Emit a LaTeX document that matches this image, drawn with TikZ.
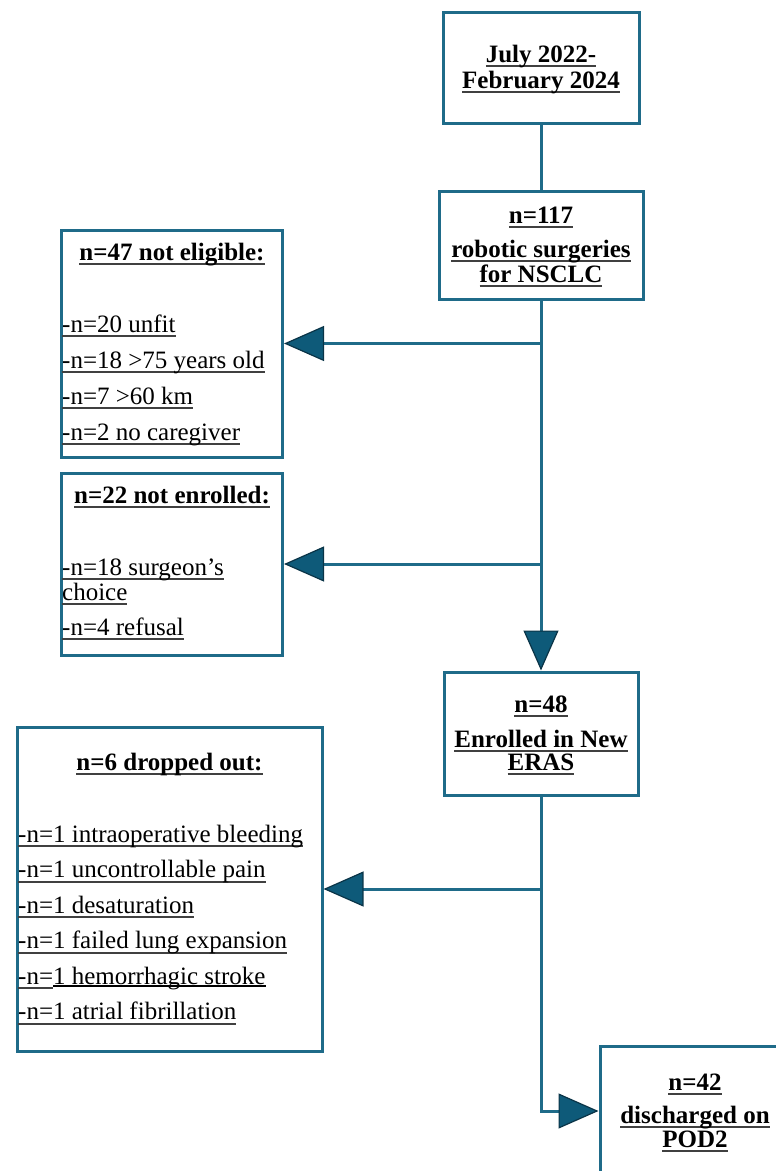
\documentclass[tikz,border=0pt]{standalone}
\usepackage{fontspec}
\setmainfont{Liberation Serif}
\usetikzlibrary{arrows.meta,positioning}
\definecolor{boxblue}{HTML}{1F6B89}
\definecolor{tipfill}{HTML}{0E5A79}
\definecolor{tipedge}{HTML}{0A3447}
\newcommand{\undl}[1]{\setbox0\hbox{#1}\rlap{\color{black!75}\rule[-5pt]{\wd0}{1.6pt}}\box0}
\newcommand{\undlhi}[1]{\setbox0\hbox{#1}\rlap{\color{black}\rule[-3pt]{\wd0}{1.8pt}}\box0}

\begin{document}
\begin{tikzpicture}[x=1pt,y=-1pt,font=\fontsize{25}{30}\selectfont,
  box/.style={draw=boxblue,line width=3pt,inner sep=0pt},
  flow/.style={draw=boxblue,line width=3pt,-{Triangle[length=40pt,width=35pt,fill=tipfill,color=tipedge,line width=1.2pt]}},
  head/.style={anchor=base,inner sep=0pt,font=\fontsize{25}{30}\selectfont\bfseries},
  item/.style={anchor=base west,inner sep=0pt}]
  \useasboundingbox (0,0) rectangle (776,1171);
  \clip (0,0) rectangle (776,1171);
  % boxes
  \node[box,minimum width=196pt,minimum height=111pt] (period) at (541,67.5) {};
  \node[box,minimum width=204pt,minimum height=108pt] (total) at (541,245) {};
  \node[box,minimum width=221pt,minimum height=227pt] (noteligible) at (172,343.5) {};
  \node[box,minimum width=221pt,minimum height=182pt] (notenrolled) at (172,564) {};
  \node[box,minimum width=194pt,minimum height=123pt] (enrolled) at (541,733.5) {};
  \node[box,minimum width=305pt,minimum height=324pt] (dropped) at (169.5,889) {};
  \node[box,minimum width=190pt,minimum height=130pt] (discharged) at (695,1111) {};
  % box texts
  \node[head] (period-a) at (541,62) {\undl{July 2022-}};
  \node[head] (period-b) at (541,88) {\undl{February 2024}};
  \node[head] (total-a) at (541,223) {\undl{n=117}};
  \node[head] (total-b) at (541,257) {\undl{robotic surgeries}};
  \node[head] (total-c) at (541,282) {\undl{for NSCLC}};
  \node[head] (noteligible-h) at (172,260) {\undl{n=47 not eligible:}};
  \node[item] (noteligible-a) at (62,332) {\undl{-n=20 unfit}};
  \node[item] (noteligible-b) at (62,368) {\undl{-n=18 >75 years old}};
  \node[item] (noteligible-c) at (62,404) {\undl{-n=7 >60 km}};
  \node[item] (noteligible-d) at (62,440) {\undl{-n=2 no caregiver}};
  \node[head] (notenrolled-h) at (172,503) {\undl{n=22 not enrolled:}};
  \node[item] (notenrolled-a) at (62,575) {\undl{-n=18 surgeon’s}};
  \node[item] (notenrolled-b) at (62,600) {\undl{choice}};
  \node[item] (notenrolled-c) at (62,635) {\undl{-n=4 refusal}};
  \node[head] (enrolled-a) at (541,712) {\undl{n=48}};
  \node[head] (enrolled-b) at (541,747) {\undl{Enrolled in New}};
  \node[head] (enrolled-c) at (541,770) {\undl{ERAS}};
  \node[head] (dropped-h) at (169.5,770) {\undl{n=6 dropped out:}};
  \node[item] (dropped-a) at (18,842) {\undl{-n=1 intraoperative bleeding}};
  \node[item] (dropped-b) at (18,877.5) {\undl{-n=1 uncontrollable pain}};
  \node[item] (dropped-c) at (18,913) {\undl{-n=1 desaturation}};
  \node[item] (dropped-d) at (18,948.5) {\undl{-n=1 failed lung expansion}};
  \node[item] (dropped-e) at (18,984) {\undl{-n=}\undlhi{1 hemorrhagic stroke}};
  \node[item] (dropped-f) at (18,1019.5) {\undl{-n=1 atrial fibrillation}};
  \node[head] (discharged-a) at (695,1090) {\undl{n=42}};
  \node[head] (discharged-b) at (695,1123) {\undl{discharged on}};
  \node[head] (discharged-c) at (695,1147) {\undl{POD2}};
  % connectors
  \draw[boxblue,line width=3pt] (period) -- (total);
  \draw[flow] (total) -- (enrolled);
  \draw[flow] (total.south |- noteligible.east) -- (noteligible.east);
  \draw[flow] (total.south |- notenrolled.east) -- (notenrolled.east);
  \draw[flow] (enrolled.south |- dropped.east) -- (dropped.east);
  \draw[flow] (enrolled.south) |- (discharged.west);
\end{tikzpicture}
\end{document}
